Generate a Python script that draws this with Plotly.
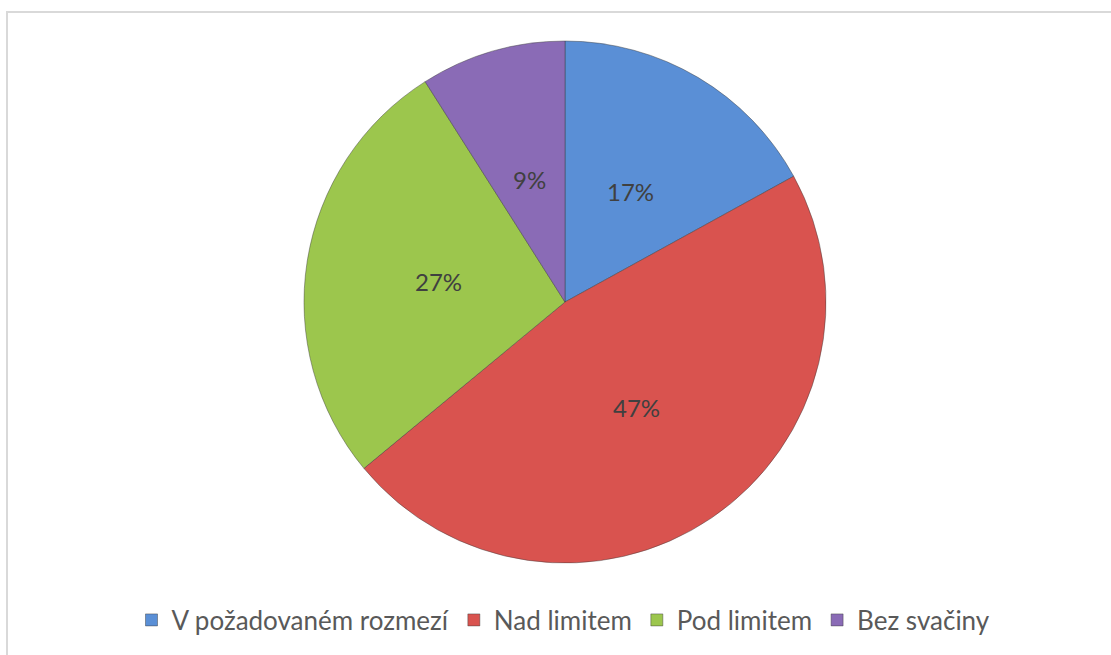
import math
import plotly.graph_objects as go

categories = ["V požadovaném rozmezí", "Nad limitem", "Pod limitem", "Bez svačiny"]
values = [17, 47, 27, 9]
colors = ["#5A8FD6", "#D9534F", "#9CC64D", "#8A6BB6"]

W, H = 1111, 655
cx, cy, r = 565, 302, 261
label_frac = 0.49

fig = go.Figure(go.Pie(
    labels=categories,
    values=values,
    sort=False,
    direction="clockwise",
    rotation=0,
    marker=dict(colors=colors, line=dict(color="rgba(60,60,60,0.45)", width=1)),
    textinfo="none",
    domain=dict(x=[(cx - r) / W, (cx + r) / W], y=[(H - cy - r) / H, (H - cy + r) / H]),
    hoverinfo="label+percent",
))

# data labels placed along each slice bisector (Excel "best fit" style)
total = sum(values)
annotations = []
cum = 0
for v in values:
    ang = 2 * math.pi * (cum + v / 2) / total
    cum += v
    px = cx + label_frac * r * math.sin(ang)
    py = cy - label_frac * r * math.cos(ang)
    annotations.append(dict(
        x=px / W, y=1 - py / H, xref="paper", yref="paper",
        text=f"{round(100 * v / total)}%", showarrow=False,
        font=dict(family="Lato", size=24, color="#404040"),
        xanchor="center", yanchor="middle",
    ))

fig.update_layout(
    width=W, height=H,
    margin=dict(l=0, r=0, t=0, b=0),
    paper_bgcolor="white",
    showlegend=True,
    legend=dict(
        orientation="h", x=563.5 / W, xanchor="center", y=1 - 620 / H, yanchor="middle",
        font=dict(family="Lato", size=26, color="#595959"),
        itemwidth=30,
    ),
    annotations=annotations,
    shapes=[dict(type="rect", xref="paper", yref="paper",
                 x0=7 / W, x1=1.01, y0=-0.02, y1=1 - 12 / H,
                 line=dict(color="#D9D9D9", width=2), fillcolor="rgba(0,0,0,0)")],
)

fig.write_html("out.html")
